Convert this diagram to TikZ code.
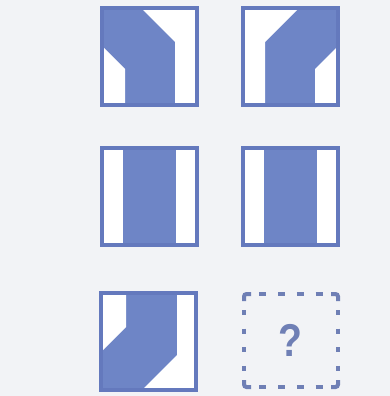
\documentclass[tikz,border=0pt]{standalone}
\usepackage{fontspec}
\usepackage{graphicx}
\setmainfont{Liberation Sans}
\definecolor{bg}{HTML}{F2F3F6}
\definecolor{band}{HTML}{6E85C6}
\definecolor{frame}{HTML}{6479BD}
\definecolor{dashc}{HTML}{6F7FB5}
\tikzset{
  bandfill/.style={fill=band},
  hole/.style={fill=white},
  boxframe/.style={draw=frame,line width=4pt},
  dashseg/.style={draw=dashc,line width=4pt,line cap=butt},
  cornerseg/.style={draw=dashc,line width=4pt,rounded corners=2.5pt,line cap=butt}
}
\begin{document}
\begin{tikzpicture}[x=1pt,y=-1pt]
\fill[bg] (0,0) rectangle (390,396);
\useasboundingbox (0,0) rectangle (390,396);
% W=99, H=101, inner inset b=4
% ---- Box 1 (row 1, col 1): band shifted left at top
\begin{scope}[shift={(100,6)}]
  \fill[bandfill] (0,0) rectangle (99,101);
  \fill[hole] (43,4) -- (95,4) -- (95,97) -- (75,97) -- (75,36) -- cycle;
  \fill[hole] (4,42) -- (25,63) -- (25,97) -- (4,97) -- cycle;
  \draw[boxframe] (2,2) rectangle (97,99);
\end{scope}
% ---- Box 2 (row 1, col 2): mirror
\begin{scope}[shift={(241,6)}]
  \fill[bandfill] (0,0) rectangle (99,101);
  \fill[hole] (56,4) -- (4,4) -- (4,97) -- (24,97) -- (24,36) -- cycle;
  \fill[hole] (95,42) -- (74,63) -- (74,97) -- (95,97) -- cycle;
  \draw[boxframe] (2,2) rectangle (97,99);
\end{scope}
% ---- Box 3 (row 2, col 1): straight band
\begin{scope}[shift={(100,146)}]
  \fill[bandfill] (0,0) rectangle (99,101);
  \fill[hole] (4,4) rectangle (23,97);
  \fill[hole] (76,4) rectangle (95,97);
  \draw[boxframe] (2,2) rectangle (97,99);
\end{scope}
% ---- Box 4 (row 2, col 2): straight band
\begin{scope}[shift={(241,146)}]
  \fill[bandfill] (0,0) rectangle (99,101);
  \fill[hole] (4,4) rectangle (23,97);
  \fill[hole] (76,4) rectangle (95,97);
  \draw[boxframe] (2,2) rectangle (97,99);
\end{scope}
% ---- Box 5 (row 3, col 1): band shifted left at bottom
\begin{scope}[shift={(99,291)}]
  \fill[bandfill] (0,0) rectangle (99,101);
  \fill[hole] (4,4) -- (27,4) -- (27,36) -- (4,59) -- cycle;
  \fill[hole] (78,4) -- (95,4) -- (95,97) -- (45,97) -- (78,64) -- cycle;
  \draw[boxframe] (2,2) rectangle (97,99);
\end{scope}
% ---- Box 6: dashed placeholder with question mark
\begin{scope}[shift={(244,294)}]
  \draw[cornerseg] (0,7) -- (0,0) -- (7,0);
  \draw[cornerseg] (87,0) -- (94,0) -- (94,7);
  \draw[cornerseg] (94,86) -- (94,93) -- (87,93);
  \draw[cornerseg] (7,93) -- (0,93) -- (0,86);
  \foreach \k in {1,2,3,4} {
    \draw[dashseg] ({\k*18.8-3.5},0) -- ({\k*18.8+3.5},0);
    \draw[dashseg] ({\k*18.8-3.5},93) -- ({\k*18.8+3.5},93);
    \draw[dashseg] (0,{\k*18.6-2.5}) -- (0,{\k*18.6+2.5});
    \draw[dashseg] (94,{\k*18.6-2.5}) -- (94,{\k*18.6+2.5});
  }
  \node[text=dashc,font=\fontsize{46}{46}\selectfont\bfseries,inner sep=0pt] (q) at (46,46) {\scalebox{0.85}[1]{?}};
\end{scope}
\end{tikzpicture}
\end{document}
